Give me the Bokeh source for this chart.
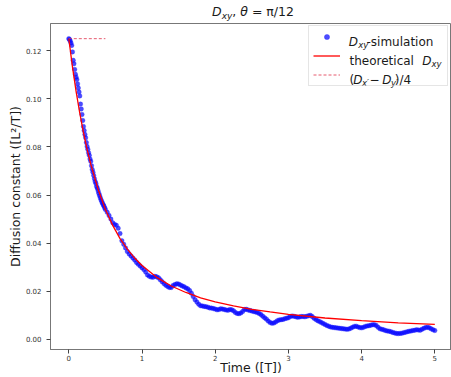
from bokeh.plotting import figure
from bokeh.layouts import column
from bokeh.models import Range1d, FixedTicker, Label, Legend, LegendItem, PrintfTickFormatter, Div
from bokeh.embed import file_html
from bokeh.resources import INLINE

# ---------------- data ----------------
sim_t = [0.00, 0.01, 0.02, 0.03, 0.04, 0.05, 0.06, 0.07, 0.08, 0.09,
         0.10, 0.11, 0.12, 0.13, 0.14, 0.15, 0.16, 0.17, 0.18, 0.19,
         0.20, 0.21, 0.22, 0.23, 0.24, 0.25, 0.26, 0.27, 0.28, 0.29,
         0.30, 0.31, 0.32, 0.33, 0.34, 0.35, 0.36, 0.37, 0.38, 0.39,
         0.40, 0.41, 0.42, 0.43, 0.44, 0.45, 0.46, 0.47, 0.48, 0.49,
         0.50, 0.525, 0.55, 0.575, 0.60, 0.625, 0.65, 0.675, 0.70, 0.725,
         0.75, 0.775, 0.80, 0.825, 0.85, 0.875, 0.90, 0.925, 0.95, 0.975,
         1.00, 1.025, 1.05, 1.075, 1.10, 1.125, 1.15, 1.175, 1.20, 1.225,
         1.25, 1.275, 1.30, 1.325, 1.35, 1.375, 1.40, 1.425, 1.45, 1.475,
         1.50, 1.525, 1.55, 1.575, 1.60, 1.625, 1.65, 1.675, 1.70, 1.725,
         1.75, 1.775, 1.80, 1.825, 1.85, 1.875, 1.90, 1.925, 1.95, 1.975,
         2.00, 2.025, 2.05, 2.075, 2.10, 2.125, 2.15, 2.175, 2.20, 2.225,
         2.25, 2.275, 2.30, 2.325, 2.35, 2.375, 2.40, 2.425, 2.45, 2.475,
         2.50, 2.525, 2.55, 2.575, 2.60, 2.625, 2.65, 2.675, 2.70, 2.725,
         2.75, 2.775, 2.80, 2.825, 2.85, 2.875, 2.90, 2.925, 2.95, 2.975,
         3.00, 3.025, 3.05, 3.075, 3.10, 3.125, 3.15, 3.175, 3.20, 3.225,
         3.25, 3.275, 3.30, 3.325, 3.35, 3.375, 3.40, 3.425, 3.45, 3.475,
         3.50, 3.525, 3.55, 3.575, 3.60, 3.625, 3.65, 3.675, 3.70, 3.725,
         3.75, 3.775, 3.80, 3.825, 3.85, 3.875, 3.90, 3.925, 3.95, 3.975,
         4.00, 4.025, 4.05, 4.075, 4.10, 4.125, 4.15, 4.175, 4.20, 4.225,
         4.25, 4.275, 4.30, 4.325, 4.35, 4.375, 4.40, 4.425, 4.45, 4.475,
         4.50, 4.525, 4.55, 4.575, 4.60, 4.625, 4.65, 4.675, 4.70, 4.725,
         4.75, 4.775, 4.80, 4.825, 4.85, 4.875, 4.90, 4.925, 4.95, 4.975,
         5.00]
sim_d = [0.1250, 0.1246, 0.1240, 0.1232, 0.1222, 0.1195, 0.1160, 0.1146, 0.1122, 0.1102,
         0.1090, 0.1080, 0.1062, 0.1045, 0.1028, 0.1012, 0.0978, 0.0958, 0.0935, 0.0910,
         0.0885, 0.0868, 0.0852, 0.0838, 0.0818, 0.0802, 0.0790, 0.0776, 0.0765, 0.0750,
         0.0740, 0.0722, 0.0706, 0.0695, 0.0681, 0.0668, 0.0656, 0.0648, 0.0636, 0.0628,
         0.0618, 0.0607, 0.0598, 0.0589, 0.0580, 0.0573, 0.0566, 0.0560, 0.0554, 0.0547,
         0.0540, 0.0528, 0.0515, 0.0500, 0.0485, 0.0478, 0.0474, 0.0462, 0.0440, 0.0410,
         0.0395, 0.0380, 0.0365, 0.0355, 0.0347, 0.0338, 0.0330, 0.0320, 0.0312, 0.0305,
         0.0298, 0.0290, 0.0280, 0.0268, 0.0262, 0.0259, 0.0258, 0.0262, 0.0260, 0.0256,
         0.0248, 0.0240, 0.0232, 0.0225, 0.0220, 0.0216, 0.0216, 0.0224, 0.0228, 0.0231,
         0.0230, 0.0226, 0.0222, 0.0219, 0.0214, 0.0210, 0.0203, 0.0192, 0.0178, 0.0165,
         0.0155, 0.0146, 0.0140, 0.0139, 0.0137, 0.0136, 0.0134, 0.0131, 0.0130, 0.0128,
         0.0126, 0.0123, 0.0124, 0.0127, 0.0126, 0.0124, 0.0122, 0.0121, 0.0124, 0.0123,
         0.0119, 0.0112, 0.0108, 0.0107, 0.0110, 0.0116, 0.0124, 0.0125, 0.0122, 0.0120,
         0.0118, 0.0116, 0.0114, 0.0112, 0.0108, 0.0103, 0.0096, 0.0090, 0.0084, 0.0076,
         0.0070, 0.0067, 0.0068, 0.0072, 0.0078, 0.0081, 0.0082, 0.0083, 0.0086, 0.0088,
         0.0090, 0.0095, 0.0097, 0.0096, 0.0094, 0.0092, 0.0093, 0.0095, 0.0095, 0.0094,
         0.0096, 0.0098, 0.0100, 0.0095, 0.0088, 0.0083, 0.0078, 0.0074, 0.0070, 0.0066,
         0.0062, 0.0058, 0.0055, 0.0052, 0.0050, 0.0049, 0.0048, 0.0047, 0.0046, 0.0045,
         0.0044, 0.0043, 0.0042, 0.0043, 0.0046, 0.0050, 0.0054, 0.0055, 0.0052, 0.0049,
         0.0048, 0.0050, 0.0054, 0.0056, 0.0057, 0.0059, 0.0061, 0.0061, 0.0058, 0.0050,
         0.0044, 0.0042, 0.0040, 0.0037, 0.0035, 0.0034, 0.0032, 0.0029, 0.0027, 0.0025,
         0.0024, 0.0025, 0.0026, 0.0028, 0.0030, 0.0032, 0.0034, 0.0035, 0.0037, 0.0038,
         0.0040, 0.0039, 0.0038, 0.0042, 0.0046, 0.0049, 0.0050, 0.0048, 0.0044, 0.0040,
         0.0037]

theo_t = [0.0, 0.05, 0.1, 0.15, 0.2, 0.25, 0.3, 0.4, 0.5, 0.6, 0.7, 0.8, 0.9, 1.0,
          1.2, 1.4, 1.6, 1.8, 2.0, 2.25, 2.5, 2.75, 3.0, 3.5, 4.0, 4.5, 5.0]
theo_d = [0.1250, 0.1133, 0.1030, 0.0940, 0.0860, 0.0790, 0.0728, 0.0624, 0.0540, 0.0474,
          0.0419, 0.0375, 0.0338, 0.0307, 0.0258, 0.0222, 0.0195, 0.0173, 0.0156, 0.0139,
          0.0125, 0.0114, 0.0104, 0.0089, 0.0078, 0.0069, 0.00625]

diff_t = [0.0, 0.5]
diff_d = [0.125, 0.125]

x_ticks = [0, 1, 2, 3, 4, 5]
y_ticks = [0.00, 0.02, 0.04, 0.06, 0.08, 0.10, 0.12]

FONT = "DejaVu Sans"
TXT = "#1a1a1a"

# ---------------- title (HTML text) ----------------
title_html = (
    '<div style="font-family:\'DejaVu Sans\'; font-size:12.5px; line-height:12.5px; '
    'padding-left:212px; padding-top:6px; color:#1a1a1a; white-space:nowrap; margin:0;">'
    '<i>D</i><span style="font-size:9px; font-style:italic; position:relative; top:3px;">xy</span>'
    ', <i>θ</i> = π/12</div>'
)
title = Div(text=title_html, width=451, height=22, margin=0)

# ---------------- main plot ----------------
p = figure(width=451, height=355, output_backend="svg", toolbar_location=None,
           x_range=Range1d(-0.25, 5.228), y_range=Range1d(-0.0042, 0.1313),
           min_border_left=50, min_border_right=0, min_border_top=1, min_border_bottom=26)
p.title = None
p.xgrid.visible = False
p.ygrid.visible = False
p.outline_line_color = "#777777"
p.outline_line_width = 1

for ax in (p.xaxis[0], p.yaxis[0]):
    ax.axis_line_color = "#777777"
    ax.major_tick_line_color = "#444444"
    ax.major_tick_out = 4
    ax.major_tick_in = 0
    ax.minor_tick_line_color = None
    ax.major_label_text_font = FONT
    ax.major_label_text_font_size = "7px"
    ax.major_label_text_color = "#333333"
    ax.axis_label_text_font = FONT
    ax.axis_label_text_font_size = "12.5px"
    ax.axis_label_text_font_style = "normal"
    ax.axis_label_text_color = TXT

p.xaxis.ticker = FixedTicker(ticks=x_ticks)
p.yaxis.ticker = FixedTicker(ticks=y_ticks)
p.yaxis.formatter = PrintfTickFormatter(format="%.2f")
p.xaxis.major_label_standoff = 1
p.yaxis.major_label_standoff = 5
p.xaxis.axis_label = "Time ([T])"
p.xaxis.axis_label_standoff = -4
p.yaxis.axis_label = "Diffusion constant ([L²/T])"
p.yaxis.axis_label_standoff = 0

r_sim = p.scatter(sim_t, sim_d, marker="circle", size=4.5, fill_color="#0000ff",
                  line_color="#2020ff", fill_alpha=0.7, line_alpha=0.35, line_width=1)
r_theo = p.line(theo_t, theo_d, line_color="red", line_width=1.3)
r_diff = p.line(diff_t, diff_d, line_color="#e0304a", line_width=0.8, line_dash="3 2")

legend = Legend(items=[LegendItem(label=" ", renderers=[r_sim]),
                       LegendItem(label=" ", renderers=[r_theo]),
                       LegendItem(label=" ", renderers=[r_diff])],
                location=(258, 263), margin=0, padding=4, spacing=6,
                glyph_width=27, glyph_height=13, label_height=13, label_width=94,
                label_standoff=9, label_text_font_size="6px",
                border_line_color="#cccccc", border_line_width=1,
                background_fill_alpha=0.0)
p.add_layout(legend)


def lab(text, x, y, size="12px", style="normal"):
    p.add_layout(Label(x=x, y=y, x_units="screen", y_units="screen", text=text,
                       text_font=FONT, text_font_size=size, text_font_style=style,
                       text_align="left", text_baseline="alphabetic", text_color=TXT))


# legend texts (frame-relative pixel positions)
lab("D", 298.3, 307.3, style="italic")
lab("xy", 307.8, 304.3, size="8.5px", style="italic")
lab("-simulation", 316, 307.3)

lab("theoretical", 299, 288.3)
lab("D", 371.7, 288.3, style="italic")
lab("xy", 381, 285.3, size="8.5px", style="italic")

lab("(", 299, 269.9)
lab("D", 302.7, 269.9, style="italic")
lab("x′", 311.5, 266.9, size="8.5px", style="italic")
lab("−", 319, 269.9)
lab("D", 331.7, 269.9, style="italic")
lab("y′", 340.5, 266.9, size="8.5px", style="italic")
lab(")/4", 344.3, 269.9)

layout = column(title, p, spacing=0)
open("out.html", "w").write(file_html(layout, INLINE))
